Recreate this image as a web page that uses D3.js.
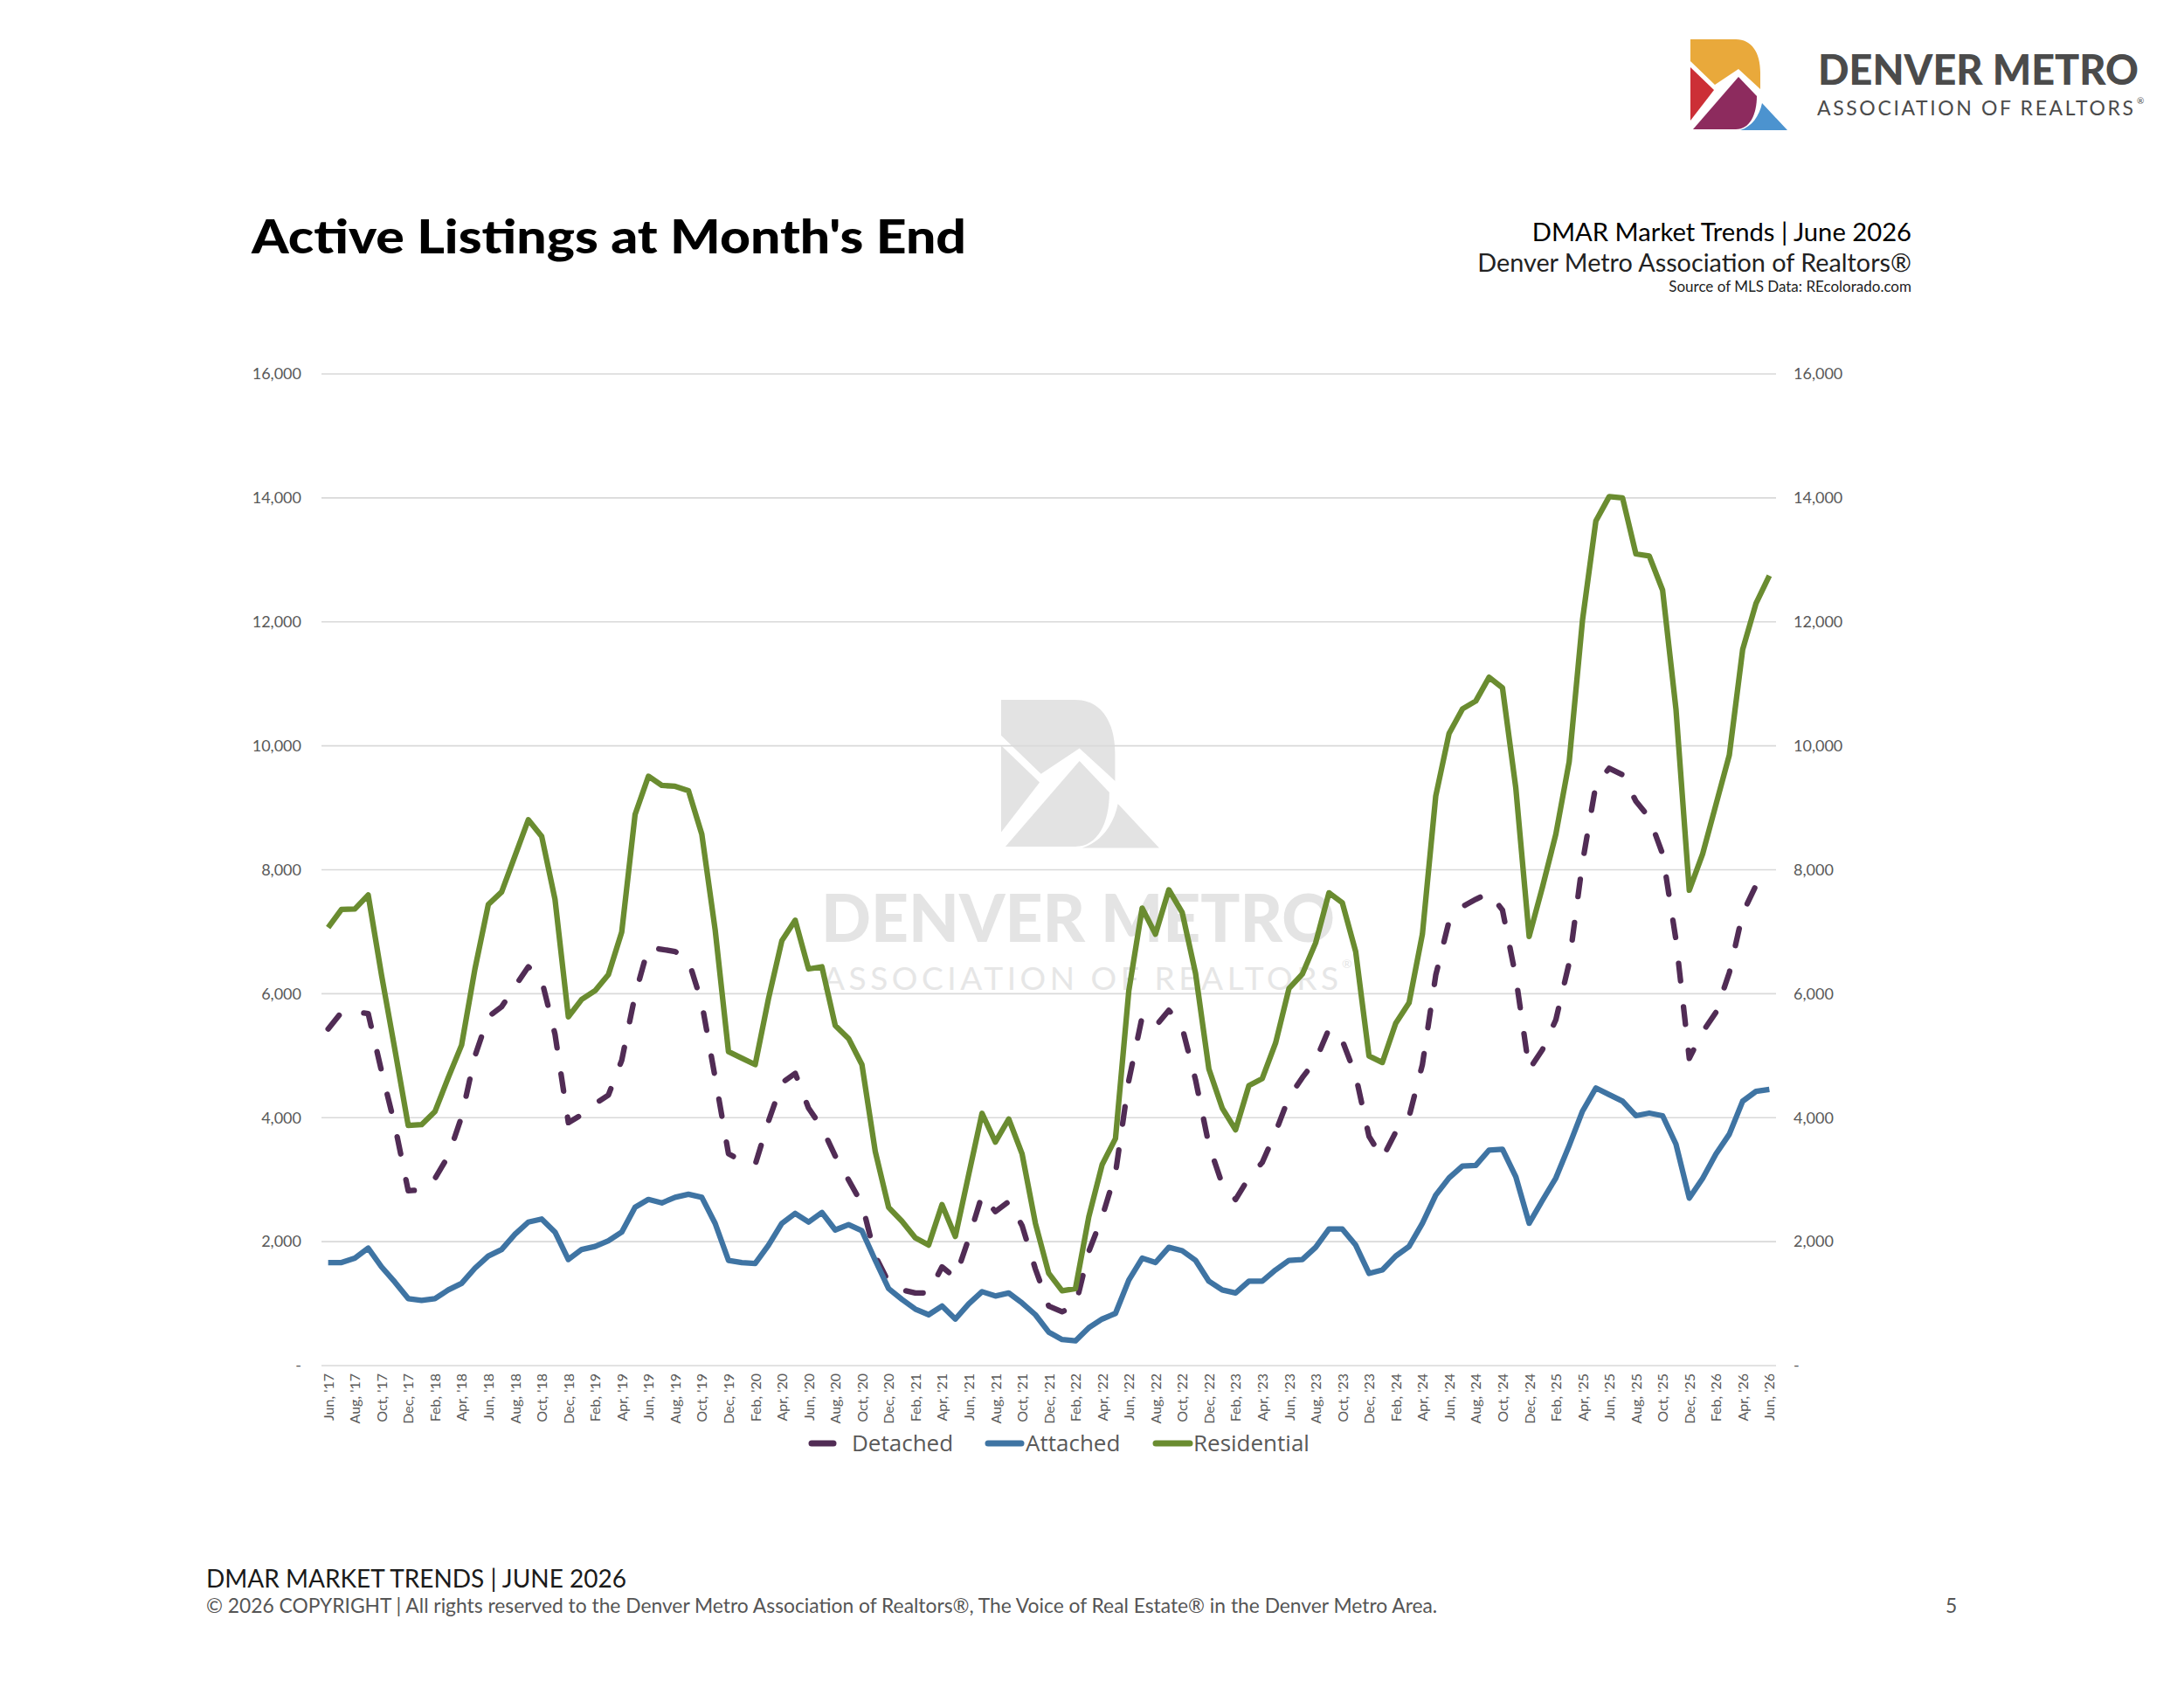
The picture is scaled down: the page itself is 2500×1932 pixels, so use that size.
<!DOCTYPE html>
<html><head><meta charset="utf-8">
<script src="https://cdn.jsdelivr.net/npm/d3@7"></script>
<style>body{margin:0;background:#fff}</style>
</head><body>
<svg id="c" width="2500" height="1932" xmlns="http://www.w3.org/2000/svg"></svg>
<script>
const categories = [
"Jun, '17","Jul, '17","Aug, '17","Sep, '17","Oct, '17","Nov, '17","Dec, '17",
"Jan, '18","Feb, '18","Mar, '18","Apr, '18","May, '18","Jun, '18","Jul, '18","Aug, '18","Sep, '18","Oct, '18","Nov, '18","Dec, '18",
"Jan, '19","Feb, '19","Mar, '19","Apr, '19","May, '19","Jun, '19","Jul, '19","Aug, '19","Sep, '19","Oct, '19","Nov, '19","Dec, '19",
"Jan, '20","Feb, '20","Mar, '20","Apr, '20","May, '20","Jun, '20","Jul, '20","Aug, '20","Sep, '20","Oct, '20","Nov, '20","Dec, '20",
"Jan, '21","Feb, '21","Mar, '21","Apr, '21","May, '21","Jun, '21","Jul, '21","Aug, '21","Sep, '21","Oct, '21","Nov, '21","Dec, '21",
"Jan, '22","Feb, '22","Mar, '22","Apr, '22","May, '22","Jun, '22","Jul, '22","Aug, '22","Sep, '22","Oct, '22","Nov, '22","Dec, '22",
"Jan, '23","Feb, '23","Mar, '23","Apr, '23","May, '23","Jun, '23","Jul, '23","Aug, '23","Sep, '23","Oct, '23","Nov, '23","Dec, '23",
"Jan, '24","Feb, '24","Mar, '24","Apr, '24","May, '24","Jun, '24","Jul, '24","Aug, '24","Sep, '24","Oct, '24","Nov, '24","Dec, '24",
"Jan, '25","Feb, '25","Mar, '25","Apr, '25","May, '25","Jun, '25","Jul, '25","Aug, '25","Sep, '25","Oct, '25","Nov, '25","Dec, '25",
"Jan, '26","Feb, '26","Mar, '26","Apr, '26","May, '26","Jun, '26"
];

const detached = [
5432,5700,5710,5680,4750,3874,2820,
2835,3018,3382,4014,4996,5628,5789,6119,6435,6224,5347,3920,
4049,4225,4365,4926,5979,6751,6716,6681,6540,5850,4646,3418,
3298,3242,3944,4561,4716,4154,3839,3382,2996,2610,1768,1347,
1221,1172,1172,1593,1417,2049,2751,2484,2646,2260,1558,961,
870,961,1839,2400,3102,4600,5628,5474,5733,5453,4610,3560,
2926,2681,3032,3277,3768,4330,4646,4926,5432,5242,4681,3698,
3347,3768,4014,4856,6300,7172,7404,7523,7628,7350,6270,4775,
5100,5580,6500,8120,9372,9638,9532,9106,8840,8255,6872,4957,
5383,5702,6340,7298,7750,7980
];

const attached = [
1663,1663,1733,1895,1593,1347,1081,
1053,1081,1221,1326,1572,1768,1874,2119,2316,2365,2154,1712,
1874,1923,2014,2154,2554,2681,2625,2716,2765,2716,2295,1698,
1663,1649,1944,2295,2456,2316,2470,2189,2274,2175,1698,1242,
1067,912,821,961,751,996,1193,1123,1172,1011,821,540,
421,400,611,751,842,1380,1733,1663,1909,1853,1698,1361,
1221,1172,1361,1361,1544,1698,1712,1909,2204,2204,1944,1488,
1544,1768,1923,2295,2750,3030,3220,3230,3478,3490,3045,2297,
2668,3027,3550,4106,4479,4372,4266,4032,4074,4032,3574,2702,
3021,3415,3734,4266,4425,4457
];

const residential = [
7067,7361,7368,7593,6300,5100,3874,
3888,4098,4646,5172,6400,7439,7642,8225,8807,8540,7523,5628,
5909,6049,6309,6996,8891,9509,9361,9347,9277,8575,7032,5067,
4961,4856,5923,6856,7186,6400,6435,5488,5277,4856,3453,2554,
2330,2063,1944,2596,2084,3081,4070,3607,3979,3418,2295,1488,
1207,1242,2400,3242,3663,6049,7382,6961,7677,7312,6330,4786,
4154,3804,4519,4632,5207,6084,6316,6821,7628,7467,6681,4996,
4891,5523,5853,6961,9190,10200,10595,10723,11106,10936,9319,6925,
7723,8574,9745,12032,13628,14021,14000,13096,13064,12511,10596,7670,
8255,9053,9851,11553,12298,12744
];

const yTicks = [0,2000,4000,6000,8000,10000,12000,14000,16000];
const tickLabels = categories.filter((d,i) => i % 2 === 0);
const seriesNames = ["Detached","Attached","Residential"];
const seriesColors = ["#512C55","#3F74A3","#6A8C30"];

const svg = d3.select('#c');
svg.append('rect').attr('width',2500).attr('height',1932).attr('fill','#fff');

const FONT = "Lato, 'Open Sans', sans-serif";

// --- logo icon ---
function drawIcon(g, cols) {
  g.append('path').attr('d','M0,0 H52 C70,0 80,15 80,38 V57 L55,34 L28,52 L0,25 Z').attr('fill',cols[0]);
  g.append('path').attr('d','M0,32 L27,58 L0,93 Z').attr('fill',cols[1]);
  g.append('path').attr('d','M3,103 L55,43 L76,65 C76,86 68,103 52,103 Z').attr('fill',cols[2]);
  g.append('path').attr('d','M82,73 L111,104 L57,104 C70,100 79,88 82,73 Z').attr('fill',cols[3]);
}

const logo = svg.append('g').attr('transform','translate(1935,45)');
drawIcon(logo, ['#E9A93B','#CC2F36','#8D2B5E','#4C93CF']);
svg.append('text').attr('x',2081).attr('y',97).attr('font-family',FONT).attr('font-weight',900)
  .attr('font-size',47).attr('fill','#4b4b4b').attr('textLength',367).attr('lengthAdjust','spacingAndGlyphs')
  .text('DENVER METRO');
svg.append('text').attr('x',2080).attr('y',132).attr('font-family',FONT).attr('font-weight',400)
  .attr('font-size',23).attr('fill','#4b4b4b').attr('textLength',362).attr('lengthAdjust','spacing')
  .text('ASSOCIATION OF REALTORS');
svg.append('text').attr('x',2446).attr('y',119).attr('font-family',FONT).attr('font-size',10).attr('fill','#4b4b4b').text('®');

// --- header ---
svg.append('text').attr('x',288).attr('y',290).attr('font-family',FONT).attr('font-weight',900)
  .attr('font-size',54).attr('fill','#000').attr('textLength',818).attr('lengthAdjust','spacingAndGlyphs')
  .text("Active Listings at Month's End");
svg.append('text').attr('x',2188).attr('y',276).attr('text-anchor','end').attr('font-family',FONT)
  .attr('font-size',29.2).attr('fill','#000').text('DMAR Market Trends | June 2026');
svg.append('text').attr('x',2188).attr('y',311).attr('text-anchor','end').attr('font-family',FONT)
  .attr('font-size',28.8).attr('fill','#222').text('Denver Metro Association of Realtors®');
svg.append('text').attr('x',2188).attr('y',334).attr('text-anchor','end').attr('font-family',FONT)
  .attr('font-size',17).attr('fill','#222').text('Source of MLS Data: REcolorado.com');

// --- scales ---
const x = d3.scalePoint().domain(categories).range([368,2033]).padding(0.5);
const y = d3.scaleLinear().domain([0,16000]).range([1563,428]);

// --- watermark ---
const wm = svg.append('g').attr('transform','translate(1146,801) scale(1.63)');
drawIcon(wm, ['#e3e3e3','#e3e3e3','#e3e3e3','#e3e3e3']);
svg.append('text').attr('x',940).attr('y',1078).attr('font-family',FONT).attr('font-weight',900)
  .attr('font-size',76).attr('fill','#e4e4e4').attr('textLength',588).attr('lengthAdjust','spacingAndGlyphs')
  .text('DENVER METRO');
svg.append('text').attr('x',942).attr('y',1133).attr('font-family',FONT).attr('font-weight',400)
  .attr('font-size',37).attr('fill','#e6e6e6').attr('textLength',590).attr('lengthAdjust','spacing')
  .text('ASSOCIATION OF REALTORS');
svg.append('text').attr('x',1536).attr('y',1108).attr('font-family',FONT).attr('font-size',14).attr('fill','#e6e6e6').text('®');

// --- gridlines ---
svg.append('g').selectAll('line').data(yTicks).join('line')
  .attr('x1',368).attr('x2',2033).attr('y1',d=>y(d)).attr('y2',d=>y(d))
  .attr('stroke','#d9d9d9').attr('stroke-width',1.6);

// --- y axes ---
const fmt = d => d === 0 ? '-' : d3.format(',')(d);
const yl = svg.append('g').attr('transform','translate(345,0)')
  .call(d3.axisLeft(y).tickValues(yTicks).tickSize(0).tickPadding(0).tickFormat(fmt));
yl.select('.domain').remove();
yl.selectAll('text').attr('font-family',FONT).attr('font-size',18).attr('fill','#595959');
const yr = svg.append('g').attr('transform','translate(2053,0)')
  .call(d3.axisRight(y).tickValues(yTicks).tickSize(0).tickPadding(0).tickFormat(fmt));
yr.select('.domain').remove();
yr.selectAll('text').attr('font-family',FONT).attr('font-size',18).attr('fill','#595959');

// --- x axis ---
const xa = svg.append('g').attr('transform','translate(0,1572)')
  .call(d3.axisBottom(x).tickValues(tickLabels).tickSize(0).tickPadding(0));
xa.select('.domain').remove();
xa.selectAll('text').attr('font-family',FONT).attr('font-size',16).attr('fill','#595959')
  .attr('text-anchor','end').attr('dy','0.35em').attr('transform','rotate(-90)')
  .attr('x',0).attr('y',0);

// --- series ---
const line = d3.line().x((d,i)=>x(categories[i])).y(d=>y(d));
const seriesData = [detached, attached, residential];
seriesData.forEach((s,k) => {
  const p = svg.append('path').datum(s).attr('d',line).attr('fill','none')
    .attr('stroke',seriesColors[k]).attr('stroke-width',6.3).attr('stroke-linejoin','round');
  if (k === 0) p.attr('stroke-dasharray','20,30').attr('stroke-linecap','round');
});

// --- legend ---
const legendItems = [
  {x1:929,x2:954,tx:975},
  {x1:1131,x2:1169,tx:1174},
  {x1:1323,x2:1362,tx:1366}
];
const lg = svg.append('g');
legendItems.forEach((it,k) => {
  lg.append('line').attr('x1',it.x1).attr('x2',it.x2).attr('y1',1652).attr('y2',1652)
    .attr('stroke',seriesColors[k]).attr('stroke-width',7).attr('stroke-linecap','round');
  lg.append('text').attr('x',it.tx).attr('y',1652).attr('dy','0.35em').attr('font-family',"'Open Sans', Lato, sans-serif")
    .attr('font-size',26).attr('fill','#595959').text(seriesNames[k]);
});

// --- footer ---
svg.append('text').attr('x',236).attr('y',1817).attr('font-family',FONT).attr('font-size',28)
  .attr('fill','#1a1a1a').text('DMAR MARKET TRENDS | JUNE 2026');
svg.append('text').attr('x',236).attr('y',1846).attr('font-family',FONT).attr('font-size',22.8)
  .attr('fill','#555').text('© 2026 COPYRIGHT | All rights reserved to the Denver Metro Association of Realtors®, The Voice of Real Estate® in the Denver Metro Area.');
svg.append('text').attr('x',2227).attr('y',1846).attr('font-family',FONT).attr('font-size',22.8)
  .attr('fill','#555').text('5');
</script>
</body></html>
